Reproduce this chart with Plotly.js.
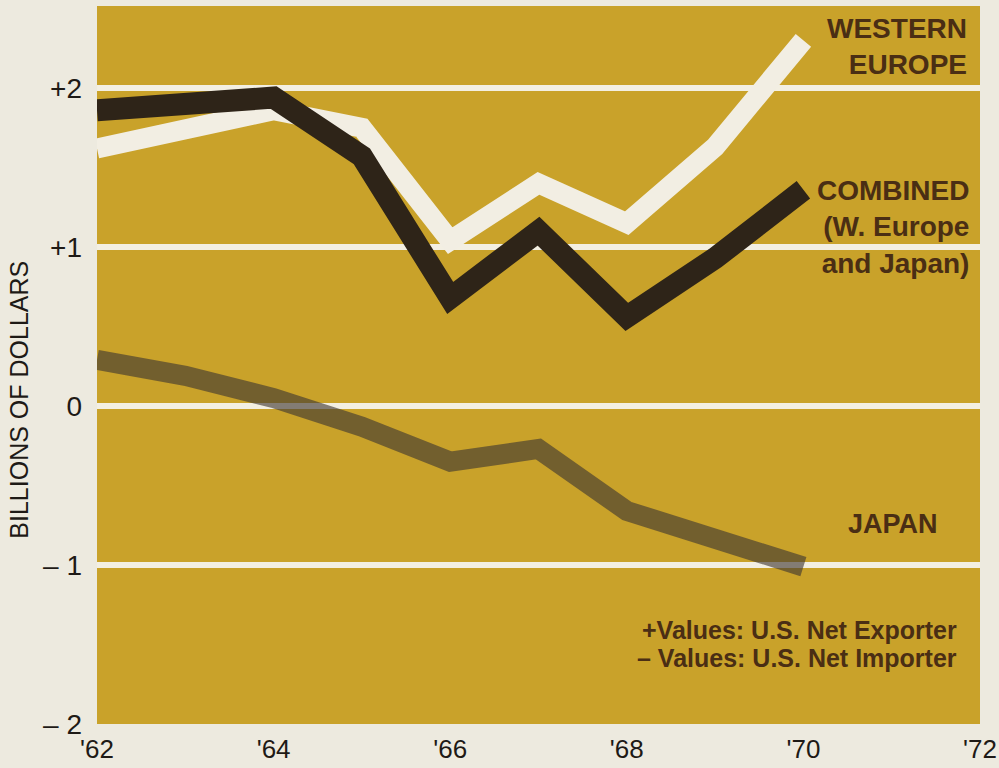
<!DOCTYPE html>
<html>
<head>
<meta charset="utf-8">
<script src="https://cdn.plot.ly/plotly-3.0.1.min.js"></script>
<style>html,body{margin:0;padding:0;background:#EDEADF;}</style>
</head>
<body>
<div id="chart" style="width:999px;height:768px;"></div>
<script>
// Data (billions of dollars)
const years = [1962, 1963, 1964, 1965, 1966, 1967, 1968, 1969, 1970];
const westernEurope = [1.62, 1.74, 1.86, 1.75, 1.04, 1.40, 1.15, 1.63, 2.30];
const combined = [1.86, 1.90, 1.94, 1.57, 0.68, 1.10, 0.56, 0.93, 1.36];
const japan = [0.29, 0.19, 0.05, -0.13, -0.35, -0.27, -0.66, -0.82, -1.01];

const xTickVals = [1962, 1964, 1966, 1968, 1970, 1972];
const xTickText = ["'62", "'64", "'66", "'68", "'70", "'72"];
const yTickVals = [-2, -1, 0, 1, 2];
const yTickText = ["\u2013 2", "\u2013 1", "0", "+1", "+2"];

const labelColor = '#4A2E14';
const labelFont = {family: 'Liberation Sans, Arial, sans-serif', size: 28, color: labelColor};

const traces = [
  {x: years, y: westernEurope, mode: 'lines', name: 'Western Europe',
   line: {color: '#F2EEE3', width: 20}, hoverinfo: 'skip'},
  {x: years, y: combined, mode: 'lines', name: 'Combined',
   line: {color: '#2E2418', width: 22}, hoverinfo: 'skip'},
  {x: years, y: japan, mode: 'lines', name: 'Japan',
   line: {color: 'rgba(62,54,48,0.62)', width: 20}, hoverinfo: 'skip'}
];

const layout = {
  width: 999, height: 768,
  margin: {l: 97, r: 19, t: 6, b: 44},
  paper_bgcolor: '#EDEADF',
  plot_bgcolor: '#C9A22A',
  showlegend: false,
  xaxis: {
    range: [1962, 1972],
    tickvals: xTickVals, ticktext: xTickText,
    showgrid: false, zeroline: false, showline: false,
    ticks: '', ticklabelstandoff: 7,
    tickfont: {family: 'Liberation Sans, Arial, sans-serif', size: 26, color: '#1E1A16'}
  },
  yaxis: {
    range: [-2, 2.516],
    tickvals: yTickVals, ticktext: yTickText,
    showgrid: true, gridcolor: '#F3EFE2', gridwidth: 6,
    zeroline: true, zerolinecolor: '#F3EFE2', zerolinewidth: 6,
    showline: false, ticks: '', ticklabelstandoff: 14,
    tickfont: {family: 'Liberation Sans, Arial, sans-serif', size: 28, color: '#1E1A16'}
  },
  annotations: [
    {xref: 'paper', yref: 'y', x: 0, y: 0.04, xshift: -78, text: 'BILLIONS OF DOLLARS',
     textangle: -90, showarrow: false, xanchor: 'center', yanchor: 'middle',
     font: {family: 'Liberation Sans, Arial, sans-serif', size: 25, color: '#1E1A16'}},
    {xref: 'paper', yref: 'paper', x: 0.9875, y: 0.993, xanchor: 'right', yanchor: 'top', align: 'right',
     text: '<b>WESTERN<br>EUROPE</b>', showarrow: false, font: labelFont},
    {xref: 'paper', yref: 'paper', x: 0.99, y: 0.768, xanchor: 'right', yanchor: 'top', align: 'right',
     text: '<b>COMBINED<br>(W. Europe<br>and Japan)</b>', showarrow: false, font: labelFont},
    {xref: 'paper', yref: 'paper', x: 0.955, y: 0.279, xanchor: 'right', yanchor: 'middle', align: 'right',
     text: '<b>JAPAN</b>', showarrow: false, font: {family: 'Liberation Sans, Arial, sans-serif', size: 27, color: labelColor}},
    {xref: 'paper', yref: 'paper', x: 0.976, y: 0.131, xanchor: 'right', yanchor: 'middle', align: 'right',
     text: '<b>+Values: U.S. Net Exporter</b>', showarrow: false,
     font: {family: 'Liberation Sans, Arial, sans-serif', size: 25, color: labelColor}},
    {xref: 'paper', yref: 'paper', x: 0.976, y: 0.092, xanchor: 'right', yanchor: 'middle', align: 'right',
     text: '<b>\u2013 Values: U.S. Net Importer</b>', showarrow: false,
     font: {family: 'Liberation Sans, Arial, sans-serif', size: 25, color: labelColor}}
  ]
};

Plotly.newPlot('chart', traces, layout, {staticPlot: true, displayModeBar: false});
</script>
</body>
</html>
